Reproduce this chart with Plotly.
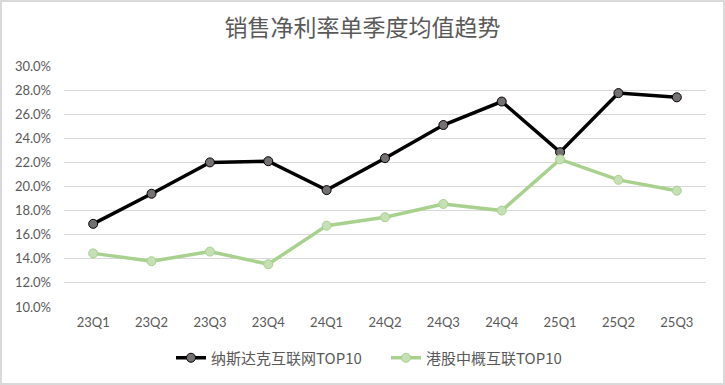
import plotly.graph_objects as go

categories = ["23Q1", "23Q2", "23Q3", "23Q4", "24Q1", "24Q2", "24Q3", "24Q4", "25Q1", "25Q2", "25Q3"]
nasdaq_top10 = [16.9, 19.4, 22.0, 22.1, 19.7, 22.35, 25.1, 27.05, 22.85, 27.75, 27.4]
hk_top10 = [14.45, 13.8, 14.6, 13.55, 16.75, 17.45, 18.55, 18.0, 22.25, 20.55, 19.65]
y_ticks = [10, 12, 14, 16, 18, 20, 22, 24, 26, 28, 30]
y_tick_labels = [f"{v:.1f}%" for v in y_ticks]

W, H = 725, 385
ML, MR, MT, MB = 64, 19, 66, 78
pw, ph = W - ML - MR, H - MT - MB

FONT = "Lato, 'Noto Sans CJK SC', sans-serif"
CJK = "'Noto Sans CJK SC', sans-serif"

fig = go.Figure()
fig.add_trace(go.Scatter(
    x=categories, y=nasdaq_top10, name="纳斯达克互联网TOP10",
    mode="lines+markers",
    line=dict(color="#000000", width=3.5),
    marker=dict(size=9, color="#767171", line=dict(color="#000000", width=1)),
))
fig.add_trace(go.Scatter(
    x=categories, y=hk_top10, name="港股中概互联TOP10",
    mode="lines+markers",
    line=dict(color="#A9D18E", width=3.5),
    marker=dict(size=9, color="#C5E0B4", line=dict(color="#A9D18E", width=1)),
))

fig.update_layout(
    width=W, height=H,
    margin=dict(l=ML, r=MR, t=MT, b=MB, autoexpand=False),
    paper_bgcolor="white", plot_bgcolor="white",
    font=dict(family=FONT, color="#595959", size=13),
    title=dict(text="销售净利率单季度均值趋势", x=0.5, xanchor="center",
               yref="container", y=1 - 28 / H, yanchor="middle",
               font=dict(family=CJK, size=23, color="#595959")),
    showlegend=True,
    legend=dict(orientation="h", x=(386 - ML) / pw, xanchor="center",
                yref="container", y=1 - 358 / H, yanchor="middle",
                font=dict(family=CJK, size=15, color="#595959"),
                itemwidth=30, tracegroupgap=0,
                entrywidth=170, entrywidthmode="pixels"),
    xaxis=dict(type="category", range=[-0.5, len(categories) - 0.5], showgrid=False,
               showline=False, zeroline=False, ticks="", automargin=False,
               tickfont=dict(size=13, color="#595959"), ticklabelstandoff=6),
    yaxis=dict(range=[10, 30], tickvals=y_ticks, ticktext=y_tick_labels,
               showgrid=True, gridcolor="#D9D9D9", gridwidth=1, zeroline=False,
               showline=False, ticks="", automargin=False,
               tickfont=dict(size=13, color="#595959"), ticklabelstandoff=12),
    shapes=[dict(type="rect", xref="paper", yref="paper",
                 x0=-(ML - 1) / pw, x1=1 + (MR - 1) / pw,
                 y0=-(MB - 1) / ph, y1=1 + (MT - 1) / ph,
                 line=dict(color="#D9D9D9", width=2), fillcolor="rgba(0,0,0,0)", layer="below")],
)

fig.write_html("out.html", config={"displayModeBar": False},
               post_script="document.body.style.margin='0';")
